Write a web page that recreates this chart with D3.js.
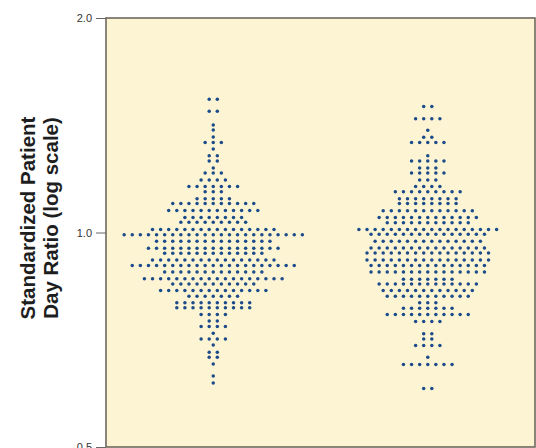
<!DOCTYPE html>
<html><head><meta charset="utf-8">
<script src="https://cdn.jsdelivr.net/npm/d3@7"></script>
<style>html,body{margin:0;padding:0;background:#fff;} svg{display:block;}</style>
</head><body>
<svg id="chart" width="536" height="448"></svg>
<script>
// Two groups of hospitals; each row = one ratio level and the number of dots at it
const groups = ["Group 1", "Group 2"];

const group1Ratios = [1.538, 1.480, 1.415, 1.393, 1.362, 1.338, 1.310, 1.281, 1.260, 1.232,
  1.212, 1.185, 1.160, 1.141, 1.115, 1.098, 1.074, 1.050, 1.034, 1.010,
  0.993, 0.972, 0.950, 0.935, 0.915, 0.899, 0.880, 0.861, 0.847, 0.829,
  0.814, 0.797, 0.784, 0.767, 0.751, 0.738, 0.722, 0.709, 0.695, 0.679,
  0.668, 0.654, 0.629, 0.615];
const group1Counts = [2, 2, 1, 1, 1, 3, 1, 2, 2, 1,
  3, 4, 7, 3, 5, 11, 12, 8, 9, 16,
  23, 15, 17, 13, 16, 21, 13, 18, 11, 14,
  7, 10, 10, 4, 2, 4, 1, 4, 1, 2,
  2, 1, 1, 1];

const group2Ratios = [1.502, 1.444, 1.391, 1.360, 1.338, 1.281, 1.260, 1.232, 1.212, 1.185,
  1.160, 1.141, 1.115, 1.098, 1.073, 1.050, 1.032, 1.010, 0.994, 0.972,
  0.951, 0.936, 0.915, 0.899, 0.880, 0.860, 0.847, 0.829, 0.814, 0.797,
  0.783, 0.767, 0.750, 0.721, 0.709, 0.694, 0.668, 0.653, 0.604];
const group2Counts = [2, 4, 1, 2, 5, 1, 5, 3, 5, 3,
  4, 9, 8, 8, 12, 13, 11, 18, 15, 14,
  15, 16, 16, 15, 15, 7, 13, 12, 11, 3,
  7, 11, 4, 2, 2, 4, 1, 7, 2];

const yTickValues = [0.5, 1.0, 2.0];
const yTitleLines = ["Standardized Patient", "Day Ratio (log scale)"];

const svg = d3.select("#chart");
const plot = {left: 106, right: 535, top: 18, bottom: 447};
const dotGap = 8.1;

const x = d3.scaleBand().domain(groups).range([plot.left, plot.right]);
const y = d3.scaleLog().domain([0.5, 2.0]).range([plot.bottom, plot.top]);

// plot background + frame
svg.append("rect")
  .attr("x", plot.left).attr("y", plot.top)
  .attr("width", plot.right - plot.left).attr("height", plot.bottom - plot.top)
  .attr("fill", "#fdf4d4")
  .attr("stroke", "#6e675a").attr("stroke-width", 1.6);

// y axis
const yAxis = svg.append("g")
  .attr("transform", `translate(${plot.left},0)`)
  .call(d3.axisLeft(y).tickValues(yTickValues).tickFormat(d3.format(".1f")).tickSize(10).tickPadding(4));
yAxis.select(".domain").remove();
yAxis.selectAll(".tick line").attr("stroke", "#666").attr("stroke-width", 1);
yAxis.selectAll(".tick text")
  .attr("fill", "#333")
  .style("font-family", "'Liberation Sans', Arial, Helvetica, sans-serif")
  .style("font-size", "11px");

// y title
const title = svg.append("text")
  .attr("transform", "translate(0,218) rotate(-90)")
  .attr("text-anchor", "middle")
  .style("font-family", "'Liberation Sans', Arial, Helvetica, sans-serif")
  .style("font-size", "20.5px")
  .style("font-weight", "bold")
  .attr("fill", "#1e1e1e");
yTitleLines.forEach((t, i) => {
  title.append("tspan").attr("x", 0).attr("y", 35 + i * 22.5).text(t);
});

// dots
const rowsByGroup = [
  {g: groups[0], ratios: group1Ratios, counts: group1Counts},
  {g: groups[1], ratios: group2Ratios, counts: group2Counts}
];
const dots = [];
rowsByGroup.forEach(r => {
  r.ratios.forEach((v, j) => {
    const n = r.counts[j];
    for (let i = 0; i < n; i++) dots.push({g: r.g, v: v, off: i - (n - 1) / 2});
  });
});

svg.append("g").selectAll("circle").data(dots).join("circle")
  .attr("cx", d => x(d.g) + x.bandwidth() / 2 + d.off * dotGap)
  .attr("cy", d => y(d.v))
  .attr("r", 1.75)
  .attr("fill", "#1c4b8a");
</script>
</body></html>
